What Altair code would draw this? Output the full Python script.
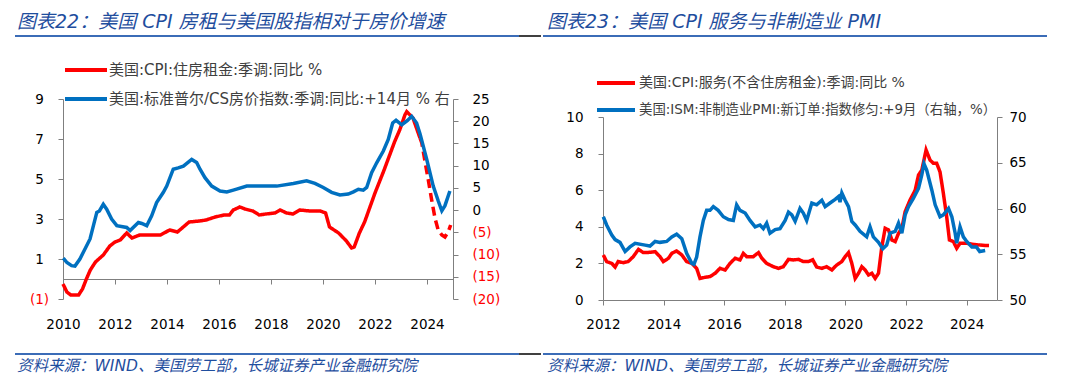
import altair as alt
import pandas as pd

# ---------------- data ----------------
# Chart 22 (left): CPI rent yoy (left axis), S&P/CS HPI yoy +14m (right axis)
L_RED_YEAR = [2010.0, 2010.15, 2010.3, 2010.6, 2010.75, 2010.9, 2011.05, 2011.25, 2011.55, 2011.8,
              2012.0, 2012.2, 2012.45, 2012.65, 2012.95, 2013.4, 2013.75, 2014.1, 2014.4, 2014.85,
              2015.25, 2015.5, 2015.85, 2016.2, 2016.4, 2016.55, 2016.8, 2017.0, 2017.3, 2017.55,
              2017.8, 2018.15, 2018.35, 2018.6, 2018.85, 2019.1, 2019.5, 2019.9, 2020.1, 2020.25,
              2020.6, 2020.9, 2021.1, 2021.2, 2021.4, 2021.6, 2022.0, 2022.35, 2022.75, 2022.95,
              2023.15, 2023.22, 2023.46, 2023.73]
L_RED_VAL = [-0.25, -0.65, -0.8, -0.8, -0.5, 0.0, 0.45, 0.85, 1.2, 1.65,
             1.85, 1.95, 2.3, 2.05, 2.2, 2.2, 2.2, 2.45, 2.35, 2.85,
             2.9, 2.95, 3.1, 3.2, 3.2, 3.45, 3.6, 3.5, 3.4, 3.2,
             3.25, 3.3, 3.45, 3.3, 3.25, 3.45, 3.4, 3.4, 3.3, 2.6,
             2.3, 1.9, 1.55, 1.6, 2.3, 2.85, 4.3, 5.45, 6.85, 7.45,
             8.2, 8.37, 8.05, 7.05]
L_RED_DASH_YEAR = [2023.73, 2023.8, 2023.92, 2024.05, 2024.18, 2024.31, 2024.43, 2024.57, 2024.69,
                   2024.82, 2024.91]
L_RED_DASH_VAL = [7.05, 6.8, 5.9, 4.95, 3.95, 3.03, 2.45, 2.2, 2.1, 2.37, 2.7]
L_BLUE_YEAR = [2010.01, 2010.15, 2010.33, 2010.46, 2010.65, 2010.85, 2011.04, 2011.17, 2011.3, 2011.4,
               2011.55, 2011.68, 2011.87, 2012.07, 2012.45, 2012.58, 2012.9, 2013.03, 2013.22, 2013.41,
               2013.6, 2013.86, 2013.99, 2014.24, 2014.43, 2014.63, 2014.95, 2015.14, 2015.27, 2015.46,
               2015.72, 2016.04, 2016.3, 2016.55, 2017.07, 2017.58, 2018.22, 2018.86, 2019.37, 2019.69,
               2020.01, 2020.33, 2020.65, 2020.97, 2021.17, 2021.36, 2021.55, 2021.68, 2021.87, 2022.07,
               2022.32, 2022.51, 2022.68, 2022.81, 2023.03, 2023.24, 2023.41, 2023.6, 2023.73, 2023.99,
               2024.24, 2024.43, 2024.57, 2024.69, 2024.88]
L_BLUE_VAL = [-10.8, -11.8, -12.5, -12.6, -11.0, -8.7, -6.5, -3.5, -0.5, -0.2,
              1.3, 0.2, -2.0, -3.5, -3.9, -4.6, -2.8, -3.0, -3.5, -1.3,
              1.7, 4.0, 5.4, 9.2, 9.5, 9.9, 11.4, 10.7, 9.2, 7.3,
              5.4, 4.3, 4.1, 4.5, 5.4, 5.4, 5.4, 6.0, 6.6, 6.0,
              5.1, 4.0, 3.4, 3.6, 4.1, 4.7, 4.5, 5.1, 8.4, 10.7,
              13.3, 15.9, 19.6, 20.2, 19.2, 20.1, 21.1, 19.6, 17.2, 11.4,
              5.4, 2.1, -0.15, 1.0, 4.3]

# Chart 23 (right): CPI services ex-rent yoy (left axis), ISM services new orders +9m (right axis)
R_RED_YEAR = [2012.01, 2012.12, 2012.29, 2012.4, 2012.5, 2012.67, 2012.83, 2013.0, 2013.17, 2013.33,
              2013.5, 2013.72, 2013.88, 2013.99, 2014.16, 2014.27, 2014.43, 2014.6, 2014.76, 2014.93,
              2015.09, 2015.2, 2015.37, 2015.53, 2015.7, 2015.86, 2016.03, 2016.19, 2016.36, 2016.52,
              2016.63, 2016.74, 2016.96, 2017.13, 2017.24, 2017.4, 2017.62, 2017.79, 2017.95, 2018.12,
              2018.28, 2018.45, 2018.61, 2018.78, 2018.92, 2019.05, 2019.22, 2019.38, 2019.55, 2019.71,
              2019.88, 2019.99, 2020.1, 2020.21, 2020.32, 2020.43, 2020.54, 2020.65, 2020.76, 2020.87,
              2020.98, 2021.09, 2021.2, 2021.31, 2021.42, 2021.53, 2021.64, 2021.75, 2021.86, 2021.97,
              2022.13, 2022.3, 2022.41, 2022.52, 2022.66, 2022.79, 2022.9, 2023.01, 2023.12, 2023.23,
              2023.34, 2023.43, 2023.56, 2023.67, 2023.78, 2024.0, 2024.22, 2024.44]
R_RED_VAL = [2.46, 2.1, 2.0, 1.8, 2.1, 2.04, 2.1, 2.37, 2.77, 2.59,
             2.6, 2.64, 2.37, 2.1, 2.28, 2.55, 2.68, 2.46, 2.1, 2.0,
             1.73, 1.18, 1.24, 1.28, 1.46, 1.73, 1.64, 2.0, 2.28, 2.19,
             2.55, 2.37, 2.37, 2.59, 2.28, 2.0, 1.82, 1.73, 1.82, 2.22,
             2.19, 2.22, 2.1, 2.1, 2.2, 1.8, 1.73, 1.82, 1.64, 1.91,
             2.1, 2.37, 2.59, 2.0, 1.18, 1.46, 1.82, 1.64, 1.37, 1.46,
             1.18, 1.46, 2.91, 3.92, 3.83, 3.28, 3.19, 3.64, 3.92, 4.83,
             5.46, 6.0, 6.83, 7.1, 8.2, 7.65, 7.47, 7.47, 7.0, 5.83,
             4.55, 3.28, 3.19, 2.83, 3.1, 3.1, 3.04, 3.0]
R_RED_DASH_YEAR = [2024.44, 2024.61, 2024.88]
R_RED_DASH_VAL = [3.0, 2.98, 2.97]
R_BLUE_YEAR = [2012.01, 2012.12, 2012.29, 2012.4, 2012.56, 2012.73, 2012.89, 2013.06, 2013.39, 2013.55,
               2013.72, 2013.88, 2014.1, 2014.27, 2014.43, 2014.6, 2014.76, 2014.93, 2015.0, 2015.09,
               2015.2, 2015.31, 2015.42, 2015.53, 2015.64, 2015.8, 2015.97, 2016.14, 2016.3, 2016.41,
               2016.52, 2016.69, 2016.85, 2017.02, 2017.18, 2017.29, 2017.4, 2017.51, 2017.68, 2017.84,
               2018.01, 2018.12, 2018.23, 2018.34, 2018.5, 2018.61, 2018.72, 2018.89, 2019.05, 2019.22,
               2019.33, 2019.49, 2019.66, 2019.77, 2019.82, 2019.88, 2019.99, 2020.1, 2020.21, 2020.32,
               2020.48, 2020.7, 2020.81, 2020.92, 2021.09, 2021.23, 2021.36, 2021.47, 2021.64, 2021.75,
               2021.86, 2021.97, 2022.08, 2022.24, 2022.41, 2022.52, 2022.59, 2022.68, 2022.85, 2022.96,
               2023.12, 2023.23, 2023.4, 2023.51, 2023.62, 2023.67, 2023.78, 2023.89, 2024.0, 2024.17,
               2024.32, 2024.43, 2024.61]
R_BLUE_VAL = [59.1, 58.2, 57.1, 56.6, 56.3, 55.3, 55.8, 56.2, 56.0, 55.9,
              56.4, 56.3, 56.4, 56.9, 57.2, 56.7, 55.1, 54.0, 53.9, 54.7,
              56.9, 58.7, 59.8, 59.8, 60.2, 59.8, 59.1, 58.8, 58.7, 60.4,
              59.8, 59.5, 58.7, 58.0, 58.2, 57.8, 58.4, 57.3, 57.7, 57.8,
              58.7, 59.6, 59.3, 58.6, 60.0, 59.5, 58.7, 60.6, 60.4, 60.9,
              60.2, 60.6, 61.0, 61.3, 60.7, 61.7, 60.9, 60.2, 58.6, 58.2,
              57.5, 56.9, 58.0, 56.9, 56.3, 55.6, 56.0, 57.3, 57.5, 58.4,
              57.3, 59.3, 60.2, 61.1, 62.2, 63.7, 64.9, 64.2, 62.0, 60.4,
              59.1, 59.3, 60.0, 59.1, 57.3, 56.2, 58.0, 56.9, 56.4, 55.8,
              55.8, 55.3, 55.4]

L_XTICKS = [2010, 2012, 2014, 2016, 2018, 2020, 2022, 2024]
L_YL_TICKS = [-1, 1, 3, 5, 7, 9]
L_YR_TICKS = [-20, -15, -10, -5, 0, 5, 10, 15, 20, 25]
R_XTICKS = [2012, 2014, 2016, 2018, 2020, 2022, 2024]
R_YL_TICKS = [0, 2, 4, 6, 8, 10]
R_YR_TICKS = [50, 55, 60, 65, 70]

TITLE_L = "图表22：美国 CPI 房租与美国股指相对于房价增速"
TITLE_R = "图表23：美国 CPI 服务与非制造业 PMI"
LEG_L = ["美国:CPI:住房租金:季调:同比 %", "美国:标准普尔/CS房价指数:季调:同比:+14月 % 右"]
LEG_R = ["美国:CPI:服务(不含住房租金):季调:同比 %", "美国:ISM:非制造业PMI:新订单:指数修匀:+9月（右轴，%）"]
SOURCE = "资料来源：WIND、美国劳工部，长城证券产业金融研究院"

# ---------------- styles ----------------
RED = "#FF0000"
BLUE = "#0070C0"
AX = "#7F7F7F"
HEAD = "#1F4E9E"
SEP = "#3B6CB7"
NUMFONT = "DejaVu Sans"
MIXFONT = "DejaVu Sans, Noto Sans CJK SC"

NEG_EXPR = "datum.value < 0 ? '(' + format(-datum.value, 'd') + ')' : format(datum.value, 'd')"
NEG_COLOR = {"condition": {"test": "datum.value < 0", "value": RED}, "value": "#000000"}


def red_frame(years, vals, dyears, dvals):
    a = pd.DataFrame({"year": years, "value": vals, "seg": "solid"})
    b = pd.DataFrame({"year": dyears, "value": dvals, "seg": "dash"})
    return pd.concat([a, b], ignore_index=True)


def txt(s, x, y, size, color, font=MIXFONT, italic=False):
    return alt.Chart(pd.DataFrame({"t": [s]})).mark_text(
        align="left", baseline="middle", font=font, fontSize=size, color=color,
        fontStyle="italic" if italic else "normal"
    ).encode(x=alt.value(x), y=alt.value(y), text="t:N")


def hline(x1, x2, y, color, w):
    return alt.Chart(pd.DataFrame({"d": [0]})).mark_rule(color=color, strokeWidth=w).encode(
        x=alt.value(x1), x2=alt.value(x2), y=alt.value(y))


def axis(**kw):
    base = dict(domainColor=AX, tickColor=AX, tickSize=5, grid=False, title=None,
                labelFont=NUMFONT, labelFontSize=13.5, labelColor="#000000",
                labelFlush=False, labelOverlap=False)
    base.update(kw)
    return alt.Axis(**base)


# ---------------- left panel (plot area 390 x 200) ----------------
LW, LH = 390, 200
df_lr = red_frame(L_RED_YEAR, L_RED_VAL, L_RED_DASH_YEAR, L_RED_DASH_VAL)
df_lb = pd.DataFrame({"year": L_BLUE_YEAR, "value": L_BLUE_VAL})

xL = alt.X("year:Q", scale=alt.Scale(domain=[2010, 2025], nice=False, zero=False),
           axis=axis(values=L_XTICKS, format="d", offset=-20, labelPadding=33))

left_red = alt.Chart(df_lr).mark_line(color=RED, strokeWidth=3.5).encode(
    x=xL,
    y=alt.Y("value:Q", scale=alt.Scale(domain=[-1, 9], nice=False, zero=False),
            axis=axis(orient="left", values=L_YL_TICKS, labelExpr=NEG_EXPR, labelColor=NEG_COLOR,
                      labelAlign="center", labelPadding=19)),
    strokeDash=alt.StrokeDash("seg:N", scale=alt.Scale(domain=["solid", "dash"], range=[[1, 0], [9, 5]]),
                              legend=None),
)
left_blue = alt.Chart(df_lb).mark_line(color=BLUE, strokeWidth=3.5).encode(
    x=xL,
    y=alt.Y("value:Q", scale=alt.Scale(domain=[-20, 25], nice=False, zero=False),
            axis=axis(orient="right", values=L_YR_TICKS, labelExpr=NEG_EXPR, labelColor=NEG_COLOR,
                      labelAlign="left", labelPadding=14)),
)

left_deco = [
    txt(TITLE_L, -46, -77, 19, HEAD, italic=True),
    hline(-48, 456, -63, SEP, 2),
    hline(456, 478, -63, "#404040", 2),
    hline(-48, 456, 255, SEP, 2),
    hline(456, 478, 255, "#404040", 2),
    txt(SOURCE, -46, 267, 15.5, HEAD, italic=True),
    hline(2, 44, -29, RED, 4),
    txt(LEG_L[0], 46, -29, 15, "#404040"),
    hline(2, 44, 0, BLUE, 4),
    txt(LEG_L[1], 46, 0, 15, "#404040"),
]

left = alt.layer(left_red, left_blue, *left_deco).resolve_scale(y="independent").properties(
    width=LW, height=LH)

# ---------------- right panel ----------------
# view starts at the same top as the left one; its y scales use the lower 183 px
RW, RH = 394, 201
R_YRANGE = [201, 18]
df_rr = red_frame(R_RED_YEAR, R_RED_VAL, R_RED_DASH_YEAR, R_RED_DASH_VAL)
df_rb = pd.DataFrame({"year": R_BLUE_YEAR, "value": R_BLUE_VAL})

xR = alt.X("year:Q", scale=alt.Scale(domain=[2012, 2025], nice=False, zero=False),
           axis=axis(values=R_XTICKS, format="d", labelPadding=12))

right_red = alt.Chart(df_rr).mark_line(color=RED, strokeWidth=3.5).encode(
    x=xR,
    y=alt.Y("value:Q", scale=alt.Scale(domain=[0, 10], range=R_YRANGE, nice=False, zero=False),
            axis=axis(orient="left", values=R_YL_TICKS, format="d", labelPadding=15)),
    strokeDash=alt.StrokeDash("seg:N", scale=alt.Scale(domain=["solid", "dash"], range=[[1, 0], [6, 4]]),
                              legend=None),
)
right_blue = alt.Chart(df_rb).mark_line(color=BLUE, strokeWidth=3.5).encode(
    x=xR,
    y=alt.Y("value:Q", scale=alt.Scale(domain=[50, 70], range=R_YRANGE, nice=False, zero=False),
            axis=axis(orient="right", values=R_YR_TICKS, format="d", labelAlign="left", labelPadding=7)),
)

right_deco = [
    txt(TITLE_R, -56, -77, 19, HEAD, italic=True),
    hline(-60, 444, -63, SEP, 2),
    hline(-60, 444, 255, SEP, 2),
    txt(SOURCE, -56, 267, 15.5, HEAD, italic=True),
    hline(-6, 32, -16, RED, 4),
    txt(LEG_R[0], 36, -16, 14, "#404040"),
    hline(-6, 32, 11, BLUE, 4),
    txt(LEG_R[1], 36, 11, 13.4, "#404040"),
]

right = alt.layer(right_red, right_blue, *right_deco).resolve_scale(y="independent").properties(
    width=RW, height=RH)

chart = alt.hconcat(left, right, spacing=0).properties(
    padding={"left": 6, "top": 5, "right": 0, "bottom": 0}
).configure_view(stroke=None).configure_axis(grid=False)

chart.save("out.html", embed_options={"renderer": "svg", "actions": False})
